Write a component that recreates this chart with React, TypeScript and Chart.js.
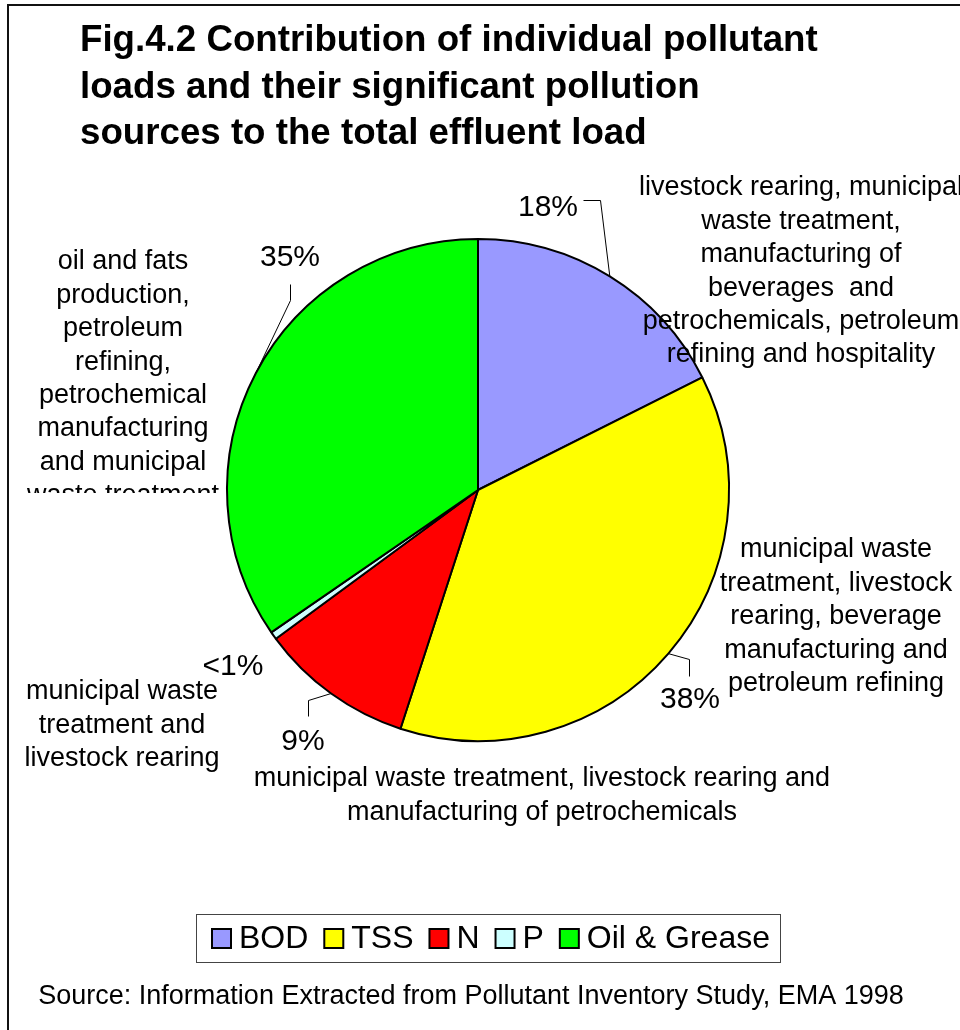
import React, { useEffect, useRef } from "react";
import { Chart, registerables } from "chart.js";

Chart.register(...registerables);

const categories = ["BOD", "TSS", "N", "P", "Oil & Grease"];
const shares = [17.6, 37.4, 9.9, 0.5, 34.6];
const percentLabels = ["18%", "38%", "9%", "<1%", "35%"];
const sliceColors = ["#9999FF", "#FFFF00", "#FF0000", "#CCFFFF", "#00FF00"];
const titleLines = [
  "Fig.4.2 Contribution of individual pollutant",
  "loads and their significant pollution",
  "sources to the total effluent load",
];
const sourceLabels = [
  [
    "livestock rearing, municipal",
    "waste treatment,",
    "manufacturing of",
    "beverages  and",
    "petrochemicals, petroleum",
    "refining and hospitality",
  ],
  [
    "municipal waste",
    "treatment, livestock",
    "rearing, beverage",
    "manufacturing and",
    "petroleum refining",
  ],
  [
    "municipal waste treatment, livestock rearing and",
    "manufacturing of petrochemicals",
  ],
  ["municipal waste", "treatment and", "livestock rearing"],
  [
    "oil and fats",
    "production,",
    "petroleum",
    "refining,",
    "petrochemical",
    "manufacturing",
    "and municipal",
    "waste treatment",
  ],
];
const footnote =
  "Source: Information Extracted from Pollutant Inventory Study, EMA 1998";

// text placement (centre x, first line centre y)
const pctPos = [
  [548, 208],
  [690, 700],
  [303, 742],
  [233, 667],
  [290, 258],
];
const srcPos = [
  [801, 188],
  [836, 550],
  [542, 779],
  [122, 692],
  [123, 262],
];
// leader elbows (from slice edge to these points)
const leaders: (number[][] | null)[] = [
  [
    [600, 200],
    [583, 200],
  ],
  [
    [689, 659],
    [689, 676],
  ],
  [
    [308, 700],
    [308, 716],
  ],
  null,
  [
    [290, 300],
    [290, 284],
  ],
];

const FONT = "'Liberation Sans', Arial, Helvetica, sans-serif";

const decorPlugin = {
  id: "decor",
  beforeDraw(chart: any) {
    const ctx = chart.ctx;
    ctx.save();
    ctx.fillStyle = "#fff";
    ctx.fillRect(0, 0, chart.width, chart.height);
    ctx.fillStyle = "#111";
    ctx.fillRect(7, 4, 2, chart.height - 4);
    ctx.fillRect(7, 4, chart.width - 7, 2);
    ctx.restore();
  },
  afterDatasetsDraw(chart: any) {
    const ctx = chart.ctx;
    const meta = chart.getDatasetMeta(0);
    ctx.save();
    // leader lines
    ctx.strokeStyle = "#000";
    ctx.lineWidth = 1;
    meta.data.forEach((arc: any, i: number) => {
      const pts = leaders[i];
      if (!pts) return;
      const mid = (arc.startAngle + arc.endAngle) / 2;
      const sx = arc.x + Math.cos(mid) * arc.outerRadius;
      const sy = arc.y + Math.sin(mid) * arc.outerRadius;
      ctx.beginPath();
      ctx.moveTo(sx, sy);
      pts.forEach((p) => ctx.lineTo(p[0] + 0.5, p[1] + 0.5));
      ctx.stroke();
    });

    // title
    ctx.fillStyle = "#000";
    ctx.textBaseline = "alphabetic";
    ctx.textAlign = "left";
    ctx.font = `bold 36.7px ${FONT}`;
    titleLines.forEach((t, i) => ctx.fillText(t, 80, 51 + i * 46.5));

    // percent labels
    ctx.textAlign = "center";
    ctx.textBaseline = "middle";
    ctx.font = `30px ${FONT}`;
    percentLabels.forEach((t, i) => ctx.fillText(t, pctPos[i][0], pctPos[i][1]));

    // source labels
    ctx.font = `27px ${FONT}`;
    sourceLabels.forEach((lines, i) => {
      ctx.save();
      if (i === 4) {
        ctx.beginPath();
        ctx.rect(0, 0, 240, 493);
        ctx.clip();
      }
      lines.forEach((t, j) =>
        ctx.fillText(t, srcPos[i][0], srcPos[i][1] + j * 33.4)
      );
      ctx.restore();
    });

    // footnote
    ctx.font = `27px ${FONT}`;
    ctx.fillText(footnote, 471, 997);

    // legend
    const boxX = 196.5,
      boxY = 914.5,
      boxW = 584,
      boxH = 48;
    ctx.strokeStyle = "#444";
    ctx.lineWidth = 1;
    ctx.strokeRect(boxX, boxY, boxW, boxH);
    ctx.font = `32px ${FONT}`;
    ctx.textAlign = "left";
    const sq = 19,
      gapSq = 8;
    const widths = categories.map((c) => ctx.measureText(c).width);
    const inner = widths.reduce((a, w) => a + w + sq + gapSq, 0);
    const span = 770 - 212;
    const gapItem = Math.max(6, (span - inner) / (categories.length - 1));
    let x = 212;
    const cy = boxY + boxH / 2;
    categories.forEach((c, i) => {
      ctx.fillStyle = sliceColors[i];
      ctx.fillRect(x, cy - sq / 2, sq, sq);
      ctx.strokeStyle = "#000";
      ctx.lineWidth = 2;
      ctx.strokeRect(x, cy - sq / 2, sq, sq);
      ctx.fillStyle = "#000";
      ctx.fillText(c, x + sq + gapSq, cy + 1);
      x += sq + gapSq + widths[i] + gapItem;
    });
    ctx.restore();
  },
};

export default function App() {
  const ref = useRef<HTMLCanvasElement | null>(null);
  useEffect(() => {
    if (!ref.current) return;
    const chart = new Chart(ref.current, {
      type: "pie",
      data: {
        labels: categories,
        datasets: [
          {
            data: shares,
            backgroundColor: sliceColors,
            borderColor: "#000",
            borderWidth: 2,
          },
        ],
      },
      options: {
        responsive: false,
        maintainAspectRatio: false,
        animation: false,
        layout: { padding: { left: 226, top: 238, right: 230, bottom: 288 } },
        plugins: {
          legend: { display: false },
          tooltip: { enabled: false },
          title: { display: false },
        },
      },
      plugins: [decorPlugin],
    });
    return () => chart.destroy();
  }, []);
  return (
    <div style={{ position: "absolute", left: 0, top: 0, width: 960, height: 1030, background: "#fff" }}>
      <canvas ref={ref} width={960} height={1030} style={{ display: "block", width: 960, height: 1030 }} />
    </div>
  );
}
